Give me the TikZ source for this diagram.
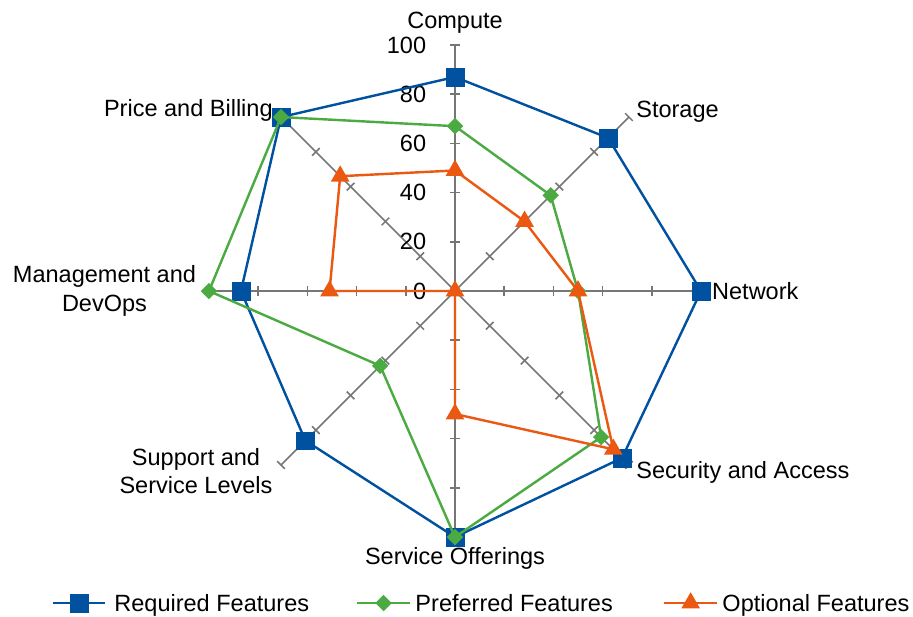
\documentclass[tikz,border=0pt]{standalone}
\usepackage{fontspec}
\setmainfont{Liberation Sans}
\usepackage{tikz}
\usetikzlibrary{calc,positioning,shapes.geometric}

\definecolor{reqblue}{RGB}{0,82,160}
\definecolor{prefgreen}{RGB}{76,170,66}
\definecolor{optorange}{RGB}{234,88,18}
\definecolor{axisgray}{RGB}{118,118,118}

\tikzset{
	axisline/.style={axisgray,line width=0.9pt},
	req/.style={reqblue,line width=1.4pt,line join=round},
	pref/.style={prefgreen,line width=1.4pt,line join=round},
	opt/.style={optorange,line width=1.4pt,line join=round},
	reqmark/.style={rectangle,fill=reqblue,draw=reqblue,line width=0.3pt,minimum size=0.36cm,inner sep=0pt},
	prefmark/.style={diamond,fill=prefgreen,minimum size=0.34cm,inner sep=0pt},
	optmark/.style={regular polygon,regular polygon sides=3,fill=optorange,minimum size=0.44cm,inner sep=0pt},
	axislabel/.style={font=\fontsize{13.6}{16.5}\selectfont,inner sep=0pt,align=center},
	ticklabel/.style={font=\fontsize{13.6}{16.5}\selectfont,inner sep=0pt,anchor=east}
}

% one series: name, style, eight values (0..100)
\newcommand\radarseries[3]{%
	\foreach \v [count=\i] in {#3} {
		\pgfmathsetmacro\ang{135-45*\i}
		\coordinate (#1-\i) at (\ang:\v*0.05);
	}
	\draw[#2] (#1-1) \foreach \i in {2,...,8} { -- (#1-\i) } -- cycle;
	\foreach \i in {1,...,8} \node[#2mark] at (#1-\i) {};
}

\begin{document}
\begin{tikzpicture}
	\useasboundingbox (-9.248,-6.606) rectangle (9.309,5.915);
	\coordinate (o) at (0,0);
	% axes with a tick every 20
	\foreach \a/\n in {90/cmp,45/sto,0/net,-45/sec,-90/srv,-135/sup,180/mgt,135/prc} {
		\draw[axisline] (o) -- (\a:5) coordinate (ax-\n);
		\foreach \t in {1,...,5}
			\draw[axisline] ($(\a:\t)+(\a+90:0.11)$) -- ($(\a:\t)+(\a-90:0.11)$);
	}
	\foreach \v in {0,20,...,100}
		\node[ticklabel] at (-0.58,\v*0.05) {\v};

	% data
	\radarseries{rq}{req}{87,88,100,96,100,86,87,100}
	\radarseries{pf}{pref}{67,55,50,84,100,43,100,100}
	\radarseries{op}{opt}{49,40,50,91,50,0,51,66}

	% axis labels
	\node[axislabel] (l-cmp) at (0,5.46) {Compute};
	\node[axislabel,anchor=west] (l-sto) at (3.679,3.65) {Storage};
	\node[axislabel,anchor=west] (l-net) at (5.22,0) {Network};
	\node[axislabel,anchor=west] (l-sec) at (3.679,-3.68) {Security and Access};
	\node[axislabel] (l-srv) at (0,-5.427) {Service Offerings};
	\node[axislabel] (l-sup) at (-5.264,-3.659) {Support and\\Service Levels};
	\node[axislabel] (l-mgt) at (-7.124,0) {Management and\\DevOps};
	\node[axislabel,anchor=east] (l-prc) at (-3.699,3.68) {Price and Billing};

	% legend
	\coordinate (lg-ra) at (-8.17,-6.342);
	\coordinate (lg-rb) at (-7.11,-6.342);
	\draw[req] (lg-ra) -- (lg-rb);
	\node[reqmark] (lg-rm) at ($(lg-ra)!0.5!(lg-rb)$) {};
	\node[axislabel,anchor=base west] (lg-rt) at (-6.93,-6.51) {Required Features};
	\coordinate (lg-pa) at (-1.99,-6.342);
	\coordinate (lg-pb) at (-0.915,-6.342);
	\draw[pref] (lg-pa) -- (lg-pb);
	\node[prefmark] (lg-pm) at ($(lg-pa)!0.5!(lg-pb)$) {};
	\node[axislabel,anchor=base west] (lg-pt) at (-0.81,-6.51) {Preferred Features};
	\coordinate (lg-oa) at (4.25,-6.342);
	\coordinate (lg-ob) at (5.33,-6.342);
	\draw[opt] (lg-oa) -- (lg-ob);
	\node[optmark] (lg-om) at ($(lg-oa)!0.5!(lg-ob)$) {};
	\node[axislabel,anchor=base west] (lg-ot) at (5.43,-6.51) {Optional Features};
\end{tikzpicture}
\end{document}
